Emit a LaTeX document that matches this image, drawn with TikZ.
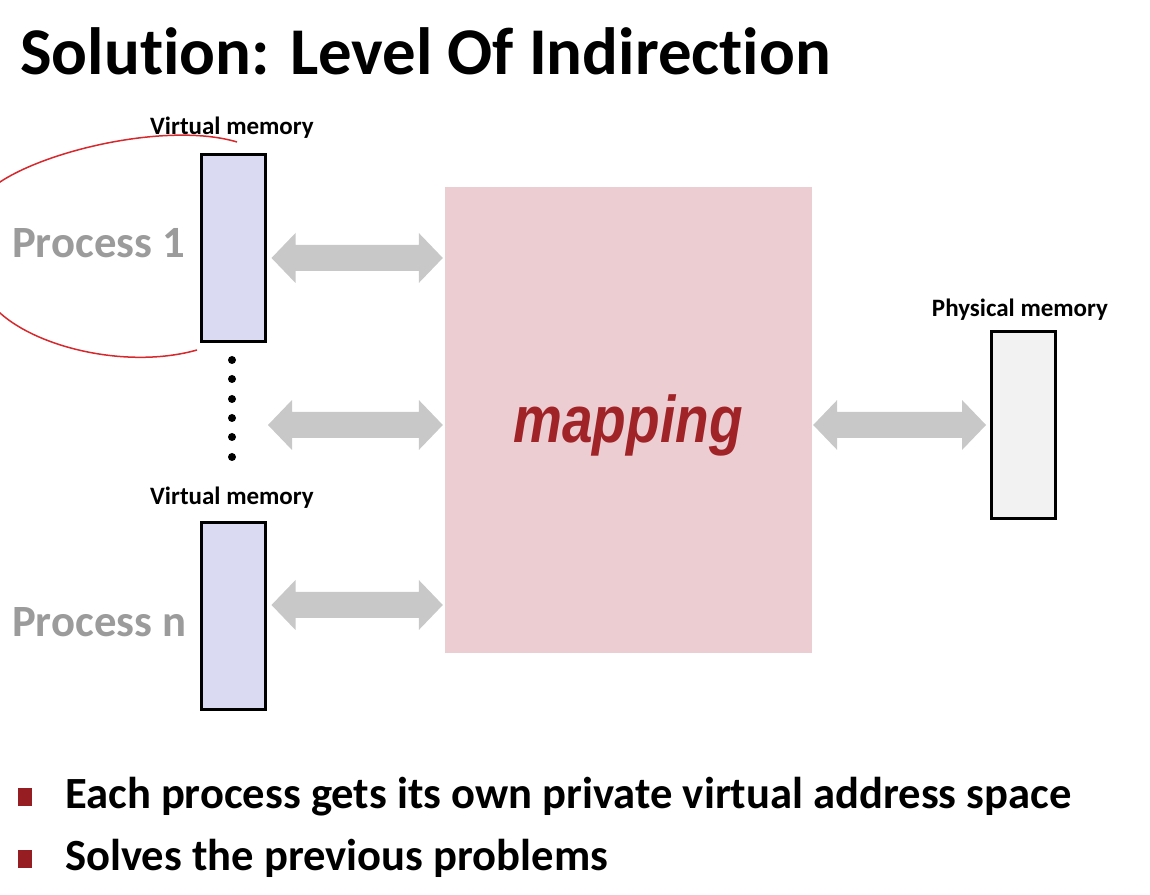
\documentclass[tikz,border=0pt]{standalone}
\usepackage{fontspec}
\usepackage{graphicx}
\setmainfont{Carlito}[Ligatures=NoCommon]
\newfontfamily\arialfont{Liberation Sans}
\usetikzlibrary{calc}
\definecolor{vmfill}{RGB}{218,218,242}
\definecolor{pmfill}{RGB}{242,242,242}
\definecolor{mapfill}{RGB}{235,205,210}
\definecolor{maptext}{RGB}{160,35,40}
\definecolor{arrgray}{RGB}{200,200,200}
\definecolor{procgray}{RGB}{155,155,155}
\definecolor{bulletred}{RGB}{150,30,35}
\definecolor{penred}{RGB}{215,40,45}
\newcommand\blockarrow[2]{%
  \fill[arrgray] let \p1=(#1), \p2=(#2) in
  (\x1,\y1) -- (\x1+24pt,\y1+25pt) -- (\x1+24pt,\y1+13pt) -- (\x2-24pt,\y1+13pt)
  -- (\x2-24pt,\y1+25pt) -- (\x2,\y1) -- (\x2-24pt,\y1-25pt) -- (\x2-24pt,\y1-13pt)
  -- (\x1+24pt,\y1-13pt) -- (\x1+24pt,\y1-25pt) -- cycle;}
\tikzset{
  vmem/.style={draw=black, line width=3pt, fill=vmfill, minimum width=64pt, minimum height=187pt, inner sep=0pt},
  pmem/.style={vmem, fill=pmfill},
  memlabel/.style={font=\bfseries\fontsize{25}{30}\selectfont, inner sep=0pt},
  proclabel/.style={font=\bfseries\fontsize{44.7}{52}\selectfont, text=procgray, inner sep=0pt, anchor=west},
  mapbox/.style={fill=mapfill, minimum width=367pt, minimum height=466pt, inner sep=0pt},
  maplabel/.style={font=\arialfont\bfseries\itshape\fontsize{55}{64}\selectfont, text=maptext, inner sep=0pt, anchor=base},
  vdot/.style={circle, fill=black, minimum size=8pt, inner sep=0pt},
  bulletsq/.style={fill=bulletred, minimum width=14pt, minimum height=18pt, inner sep=0pt},
  bullettext/.style={font=\bfseries\fontsize{44.6}{52}\selectfont, inner sep=0pt, anchor=base west},
  titletext/.style={font=\bfseries\fontsize{66.8}{76}\selectfont, inner sep=0pt, anchor=base west},
  pen/.style={draw=penred, line width=1.5pt}
}
\begin{document}
\begin{tikzpicture}[x=1pt,y=1pt]
\useasboundingbox (0,0) rectangle (1150,894);
\fill[white] (0,0) rectangle (1150,894);
% title
\node[titletext] (title) at (20,819) {Solution: Level Of Indirection};
% memories
\node[vmem] (vm1) at (233.5,646) {};
\node[vmem] (vm2) at (233.5,277.5) {};
\node[pmem] (pm) at (1023,469) {};
\node[memlabel] (vl1) at (232,766) {Virtual memory};
\node[memlabel] (vl2) at (232,396) {Virtual memory};
\node[memlabel] (pl) at (1020,584) {Physical memory};
\node[proclabel] (p1) at (12,651) {Process 1};
\node[proclabel] (pn) at (12,272) {Process n};
% dots
\foreach \i/\yy in {1/534,2/515,3/495,4/476,5/457,6/437}
  \node[vdot] (d\i) at (232,\yy) {};
% mapping
\node[mapbox] (map) at (628.5,474) {};
\node[maplabel] (maptxt) at (628,451) {\scalebox{1}[1.2]{mapping}};
% arrows
\coordinate (r1) at (0,636);
\coordinate (r3) at (0,289);
\coordinate (dotr) at (268,469);
\blockarrow{$(vm1.east |- r1)+(4.5,0)$}{$(map.west |- r1)+(-2,0)$}
\blockarrow{dotr}{$(map.west |- dotr)+(-2,0)$}
\blockarrow{$(vm2.east |- r3)+(4.5,0)$}{$(map.west |- r3)+(-2,0)$}
\blockarrow{$(map.east |- pm.west)+(1,0)$}{$(pm.west)+(-3.5,0)$}
% red annotation
\begin{scope}
\clip (0,0) rectangle (1150,894);
\draw[pen] (237,752) .. controls (170,772) and (50,745) .. (0,712)
  .. controls (-40,680) and (-40,610) .. (0,581)
  .. controls (40,545) and (130,525) .. (197,544);
\end{scope}
% bullets
\node[bulletsq] (b1) at (25,97) {};
\node[bulletsq] (b2) at (25,35) {};
\node[bullettext] (t1) at (65,86) {Each process gets its own private virtual address space};
\node[bullettext] (t2) at (65,24) {Solves the previous problems};
\end{tikzpicture}
\end{document}
